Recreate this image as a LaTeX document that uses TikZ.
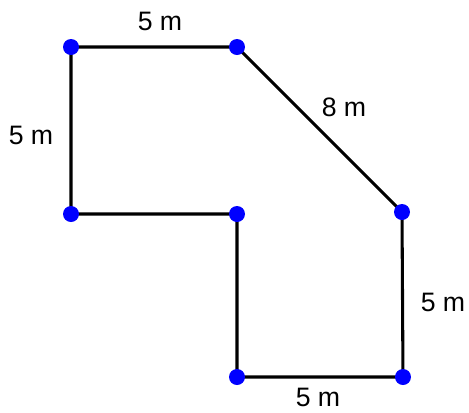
\documentclass[tikz,border=0pt]{standalone}
\usepackage{fontspec}
\setmainfont{Liberation Sans}
\begin{document}
\begin{tikzpicture}[x=0.75pt,y=-0.75pt,font=\fontsize{20}{24}\selectfont,
  side/.style={line width=2.3pt,black,line join=miter},
  len/.style={inner sep=0pt}]
\useasboundingbox (0,0) rectangle (469,412);
% corners of the outline
\coordinate (tl) at (71,47);
\coordinate (tm) at (237,47);
\coordinate (rt) at (402,212);
\coordinate (br) at (403,377);
\coordinate (bl) at (237,377);
\coordinate (in) at (237,214);
\coordinate (ml) at (71,214);
\draw[side] (tl)--(tm)--(rt)--(br)--(bl)--(in)--(ml)--cycle;
\foreach \p in {tl,tm,rt,br,bl,in,ml} \fill[blue] (\p) circle (6pt);
% side lengths
\node[len] (top) at (160,21) {5 m};
\node[len] (left) at (31,135) {5 m};
\node[len] (diag) at (344,107) {8 m};
\node[len] (right) at (443,302) {5 m};
\node[len] (bottom) at (318,397) {5 m};
\end{tikzpicture}
\end{document}
